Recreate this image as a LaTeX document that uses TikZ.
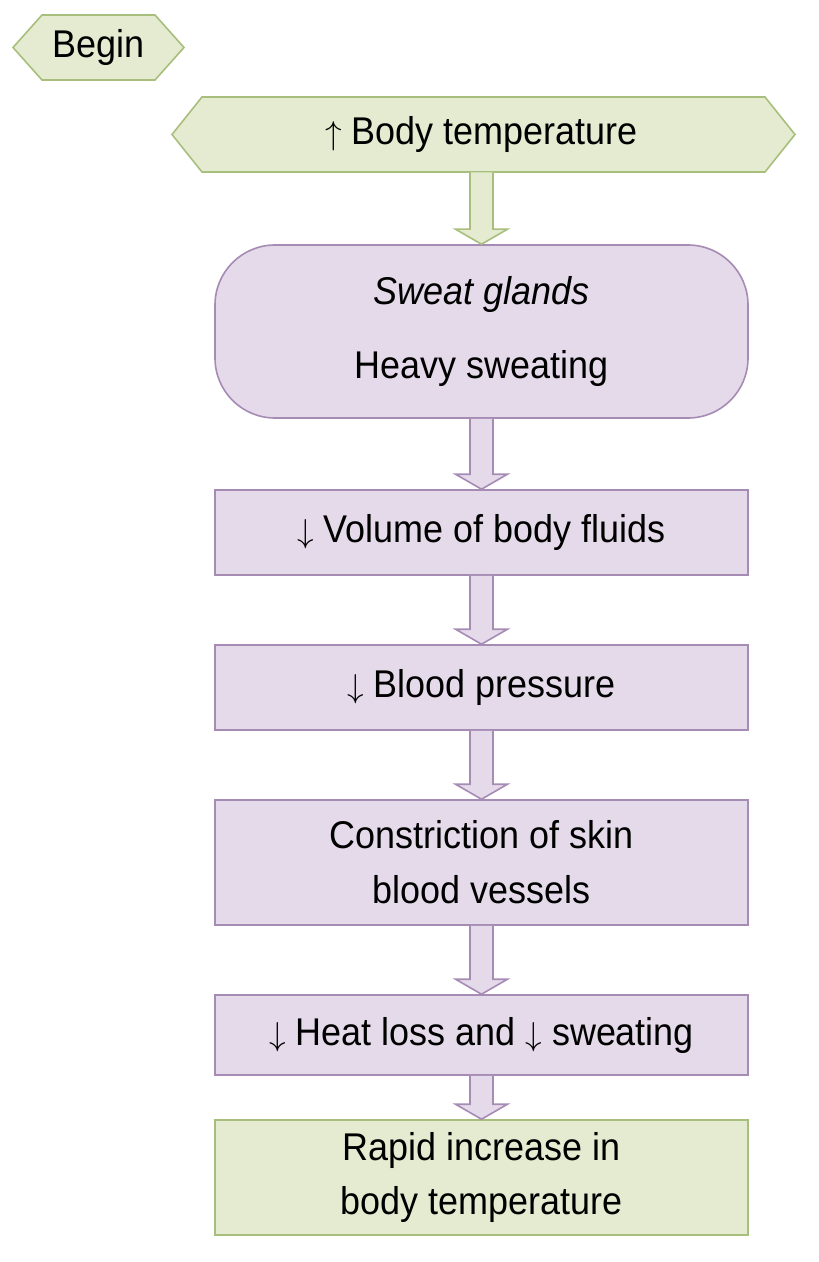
\documentclass[tikz,border=0pt]{standalone}
\usepackage{fontspec}
\setmainfont{Liberation Sans}[FakeStretch=0.93]
\usetikzlibrary{calc}
\definecolor{gfill}{HTML}{E4EBD1}
\definecolor{gline}{HTML}{A8BE7C}
\definecolor{pfill}{HTML}{E4DAEA}
\definecolor{pline}{HTML}{A68BB5}
\tikzset{
  box/.style={rectangle, draw=pline, fill=pfill, line width=1.2pt, minimum width=399.75pt, align=center, font=\fontsize{29}{41}\selectfont, inner sep=0pt},
  gbox/.style={box, draw=gline, fill=gfill},
  hex/.style={draw=gline, fill=gfill, line width=1.2pt},
  txt/.style={font=\fontsize{29}{41}\selectfont, inner sep=0pt},
  parrow/.style={draw=pline, fill=pfill, line width=1.2pt},
  garrow/.style={draw=gline, fill=gfill, line width=1.2pt}
}
\newcommand\blockarr[3]{%
  \path[#3] let \p1=(#1.south), \p2=(#2.north) in
    (\x1-8.6pt,\y1) -- (\x1-8.6pt,\y2+11.25pt) -- (\x1-19.5pt,\y2+11.25pt) -- (\x1,\y2)
    -- (\x1+19.5pt,\y2+11.25pt) -- (\x1+8.6pt,\y2+11.25pt) -- (\x1+8.6pt,\y1);}
\begin{document}
\begin{tikzpicture}[x=0.75pt,y=-0.75pt]
\useasboundingbox (0,0) rectangle (818,1262);
% Begin hexagon
\draw[hex] (13,47.5) -- (42,15) -- (155,15) -- (184,47.5) -- (155,80) -- (42,80) -- cycle;
\node[txt] (begin) at (98.5,47.5) {Begin};
% Body temperature
\draw[hex] (172,134.5) -- (202,97) -- (765,97) -- (795,134.5) -- (765,172) -- (202,172) -- cycle;
\node[txt, minimum width=424pt, minimum height=56.25pt] (bt) at (481.5,134.5) {$\uparrow$ Body temperature};
% boxes
\node[box, rounded corners=45pt, minimum height=129.75pt] (sweat) at (481.5,331.5)
  {\textit{Sweat glands}\\[15pt] Heavy sweating};
\node[box, minimum height=63.75pt] (vol) at (481.5,532.5) {$\downarrow$ Volume of body fluids};
\node[box, minimum height=63.75pt] (bp) at (481.5,687.5) {$\downarrow$ Blood pressure};
\node[box, minimum height=93.75pt] (con) at (481.5,862.5) {Constriction of skin\\blood vessels};
\node[box, minimum height=60pt] (heat) at (481.5,1035) {$\downarrow$ Heat loss and $\downarrow$ sweating};
\node[gbox, minimum height=86.25pt] (rapid) at (481.5,1177.5) {Rapid increase in\\body temperature};
% arrows
\blockarr{bt}{sweat}{garrow}
\blockarr{sweat}{vol}{parrow}
\blockarr{vol}{bp}{parrow}
\blockarr{bp}{con}{parrow}
\blockarr{con}{heat}{parrow}
\blockarr{heat}{rapid}{parrow}
\end{tikzpicture}
\end{document}
